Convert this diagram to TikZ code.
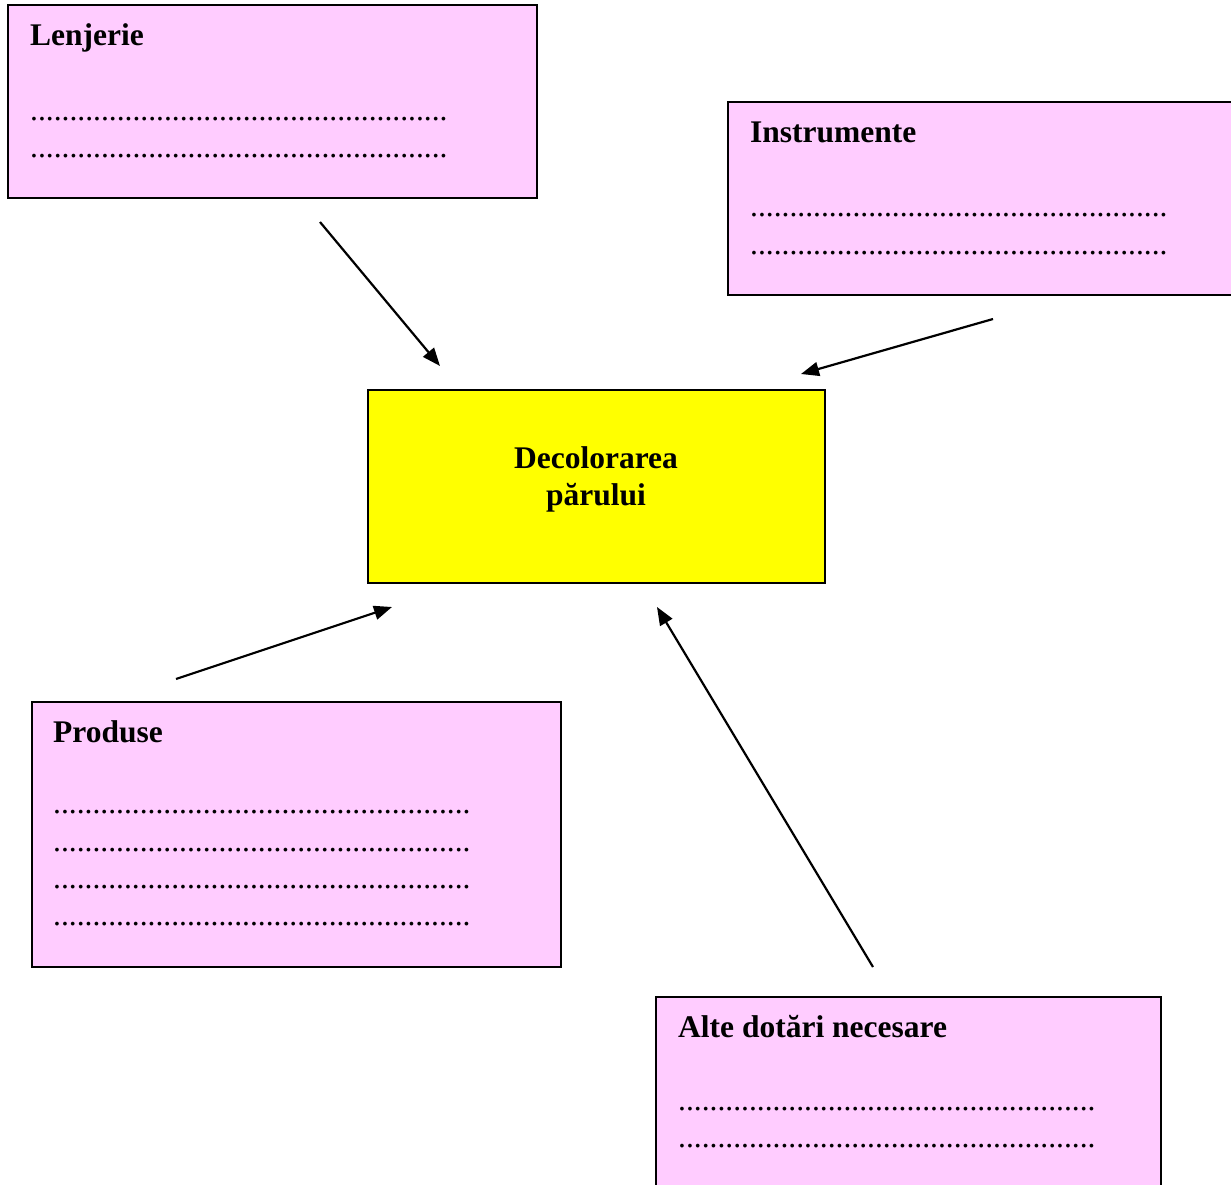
\documentclass[tikz,border=0pt]{standalone}
\usepackage{fontspec}
\setmainfont{Liberation Serif}
\usetikzlibrary{arrows.meta}
\definecolor{pinkbox}{RGB}{255,204,255}
\definecolor{yellowbox}{RGB}{255,255,0}
\tikzset{
  boxp/.style={draw=black, line width=1.6pt, fill=pinkbox, rectangle, inner sep=0pt},
  boxy/.style={draw=black, line width=1.6pt, fill=yellowbox, rectangle, inner sep=0pt},
  txt/.style={inner sep=0pt, anchor=base west, font=\fontsize{31.5}{37}\selectfont\bfseries},
  dots/.style={inner sep=0pt, anchor=base west, font=\fontsize{31.5}{37}\selectfont},
  ctxt/.style={inner sep=0pt, anchor=base, font=\fontsize{31.5}{37}\selectfont\bfseries},
  arr/.style={line width=2.2pt, -{Triangle[length=18pt,width=14pt]}}
}
\newcommand{\dotline}{.....................................................}
\begin{document}
\begin{tikzpicture}[x=1pt,y=-1pt]
\useasboundingbox (0,0) rectangle (1231,1185);
\clip (0,0) rectangle (1231,1185);
\fill[white] (0,0) rectangle (1231,1185);
% boxes
\node[boxp, minimum width=529pt, minimum height=193pt] (len) at (272.5,101.5) {};
\node[boxp, minimum width=520pt, minimum height=193pt] (ins) at (988,198.5) {};
\node[boxy, minimum width=457pt, minimum height=193pt] (dec) at (596.5,486.5) {};
\node[boxp, minimum width=529pt, minimum height=265pt] (pro) at (296.5,834.5) {};
\node[boxp, minimum width=505pt, minimum height=220pt] (alt) at (908.5,1107) {};
% texts
\node[txt] (lent) at (30,46) {Lenjerie};
\node[dots] (lend1) at (30,121) {\dotline};
\node[dots] (lend2) at (30,158) {\dotline};
\node[txt] (inst) at (750,143) {Instrumente};
\node[dots] (insd1) at (750,217) {\dotline};
\node[dots] (insd2) at (750,254) {\dotline};
\node[ctxt] (dect1) at (596,468) {Decolorarea};
\node[ctxt] (dect2) at (596,505) {părului};
\node[txt] (prot) at (53,742) {Produse};
\node[dots] (prod1) at (53,813) {\dotline};
\node[dots] (prod2) at (53,851) {\dotline};
\node[dots] (prod3) at (53,888) {\dotline};
\node[dots] (prod4) at (53,925) {\dotline};
\node[txt] (altt) at (678,1037) {Alte dotări necesare};
\node[dots] (altd1) at (678,1110) {\dotline};
\node[dots] (altd2) at (678,1147) {\dotline};
% arrows
\coordinate (a1s) at (320,222); \coordinate (a1e) at (440,366);
\coordinate (a2s) at (993,319); \coordinate (a2e) at (801,374);
\coordinate (a3s) at (176,679); \coordinate (a3e) at (392,607);
\coordinate (a4s) at (873,967); \coordinate (a4e) at (657,607);
\draw[arr] (a1s) -- (a1e);
\draw[arr] (a2s) -- (a2e);
\draw[arr] (a3s) -- (a3e);
\draw[arr] (a4s) -- (a4e);
\end{tikzpicture}
\end{document}
